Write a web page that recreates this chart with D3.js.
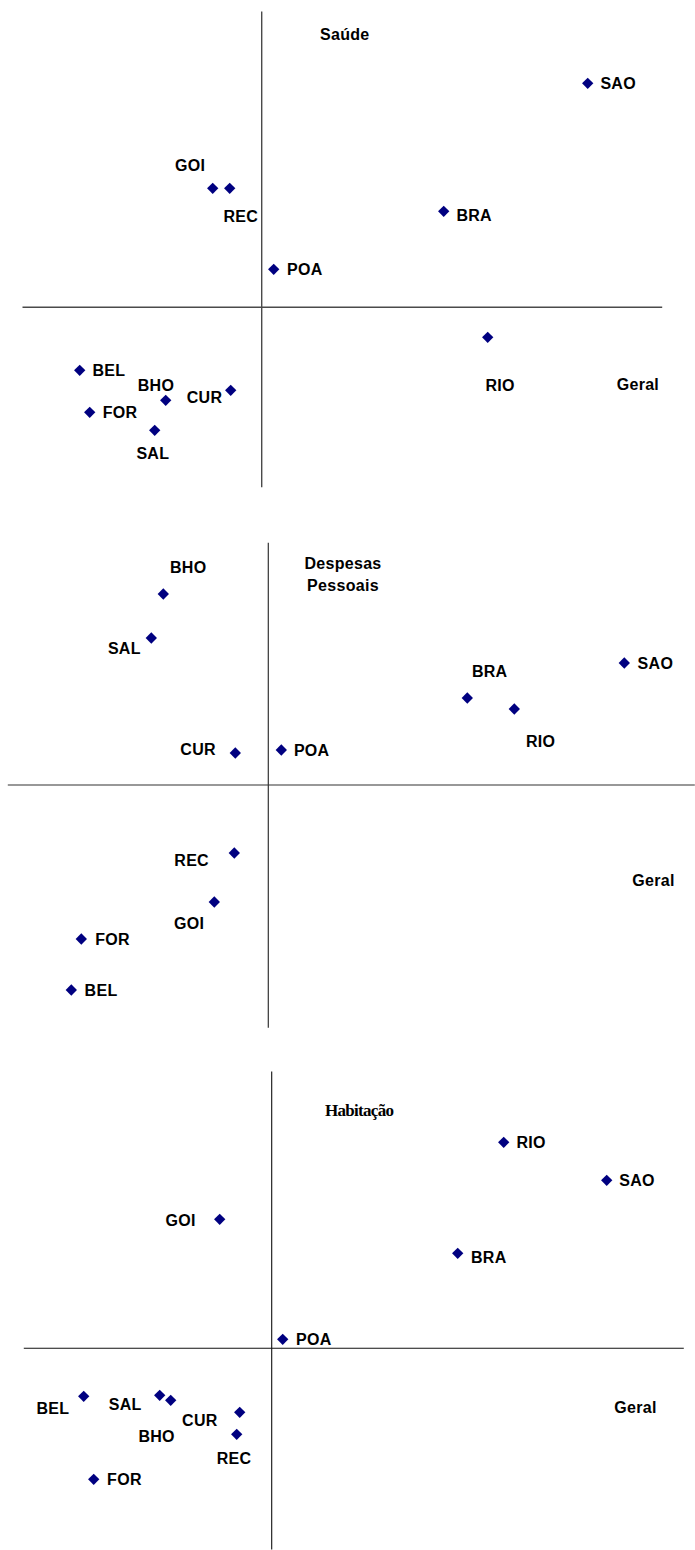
<!DOCTYPE html>
<html>
<head>
<meta charset="utf-8">
<script src="https://cdn.jsdelivr.net/npm/d3@7"></script>
<style>
  html, body { margin: 0; padding: 0; background: #fff; }
  svg { display: block; }
  .lbl { font-family: "Liberation Sans", Arial, sans-serif; font-weight: bold; font-size: 16px; letter-spacing: 0.3px; fill: #000; }
  .ttl-serif { font-family: "Liberation Serif", "Times New Roman", serif; font-weight: bold; font-size: 17px; letter-spacing: -0.7px; fill: #000; }
</style>
</head>
<body>
<script>
// ---- Data (arbitrary factor-score units; origin at axis crossing) ----
const cities = ["GOI", "REC", "POA", "BEL", "BHO", "CUR", "FOR", "SAL", "SAO", "BRA", "RIO"];

// Panel 1: Saúde vs Geral
const saudeX = [-0.49, -0.32, 0.12, -1.82, -0.96, -0.31, -1.72, -1.07, 3.26, 1.82, 2.26];
const saudeY = [1.19, 1.19, 0.38, -0.63, -0.93, -0.83, -1.05, -1.23, 2.24, 0.96, -0.30];

// Panel 2: Despesas Pessoais vs Geral
const despX = [-0.54, -0.34, 0.13, -1.97, -1.05, -0.33, -1.87, -1.17, 3.56, 1.99, 2.46];
const despY = [-1.17, -0.68, 0.35, -2.05, 1.91, 0.32, -1.54, 1.47, 1.22, 0.87, 0.76];

// Panel 3: Habitação vs Geral
const habX = [-0.52, -0.35, 0.11, -1.88, -1.01, -0.32, -1.78, -1.12, 3.35, 1.86, 2.32];
const habY = [1.29, -0.86, 0.09, -0.48, -0.52, -0.64, -1.31, -0.47, 1.68, 0.95, 2.06];

const panelTitles = [["Saúde"], ["Despesas", "Pessoais"], ["Habitação"]];
const axisLabel = "Geral";

// ---- Layout (not data) ----
const W = 695, H = 1550;
const svg = d3.select("body").append("svg").attr("width", W).attr("height", H);

// label offsets [dx to label left edge, dy to label vertical centre], per city order
const labelOffsets = [
  [[-37.7, -22.6], [-6.3, 28.4], [13.4, 0], [12.7, 0], [-28, -15], [-44, 7.6], [13, 0], [-18.3, 23.3], [12.7, 0], [12.7, 4], [-2.3, 47.7]],
  [[-40.3, 21.6], [-60, 7.3], [12.6, 0], [13.3, 0], [6.7, -26.6], [-55, -3.4], [14, 0], [-43.4, 10.6], [13.3, 0], [4.6, -26.6], [11.7, 32.4]],
  [[-54.3, 1], [-20, 24], [13.3, 0], [-47.3, 12.3], [-32.3, 36], [-57.6, 7.7], [13.4, 0], [-51, 9.3], [12.6, 0], [13.3, 4], [12.7, 0]]
];

const panels = [
  { xs: saudeX, ys: saudeY, xDom: [-2.397, 4.0], yDom: [-1.794, 2.963], xR: [22, 661.7], yR: [486.7, 11],
    axisColor: "#4a4a4a", axisW: 1.4,
    title: { x: 320, y: 34, anchor: "start", cls: "lbl", lh: 0 }, geral: { x: 616.7, y: 384.5 } },
  { xs: despX, ys: despY, xDom: [-2.61, 4.26], yDom: [-2.423, 2.427], xR: [7.3, 694.3], yR: [1027.3, 542.3],
    axisColor: "#333", axisW: 1.2,
    title: { x: 343, y: 563.3, anchor: "middle", cls: "lbl", lh: 21.7 }, geral: { x: 632.3, y: 880 } },
  { xs: habX, ys: habY, xDom: [-2.484, 4.116], yDom: [-2.007, 2.773], xR: [23.3, 683.3], yR: [1549, 1071],
    axisColor: "#111", axisW: 1.1,
    title: { x: 325, y: 1110.7, anchor: "start", cls: "ttl-serif", lh: 0 }, geral: { x: 614.3, y: 1407.7 } }
];

const diamond = d3.symbol().type(d3.symbolSquare).size(64);

panels.forEach((p, pi) => {
  const x = d3.scaleLinear().domain(p.xDom).range(p.xR);
  const y = d3.scaleLinear().domain(p.yDom).range(p.yR);
  const g = svg.append("g");

  // axes crossing at origin
  const xAxis = g.append("g").attr("transform", `translate(0,${y(0) - 0.5})`)
    .call(d3.axisBottom(x).tickValues([]).tickSizeOuter(0));
  const yAxis = g.append("g").attr("transform", `translate(${x(0) - 0.5},0)`)
    .call(d3.axisLeft(y).tickValues([]).tickSizeOuter(0));
  [xAxis, yAxis].forEach(a => a.select(".domain").attr("stroke", p.axisColor).attr("stroke-width", p.axisW));

  // points
  const pts = cities.map((c, i) => ({ c, vx: p.xs[i], vy: p.ys[i], off: labelOffsets[pi][i] }));
  g.selectAll("path.pt").data(pts).join("path")
    .attr("class", "pt")
    .attr("d", diamond)
    .attr("fill", "#000080")
    .attr("transform", d => `translate(${x(d.vx)},${y(d.vy)}) rotate(45)`);

  g.selectAll("text.city").data(pts).join("text")
    .attr("class", "lbl city")
    .attr("x", d => x(d.vx) + d.off[0])
    .attr("y", d => y(d.vy) + d.off[1])
    .attr("dominant-baseline", "central")
    .text(d => d.c);

  // title
  const t = p.title;
  panelTitles[pi].forEach((line, li) => {
    g.append("text").attr("class", t.cls)
      .attr("x", t.x).attr("y", t.y + li * t.lh)
      .attr("text-anchor", t.anchor)
      .attr("dominant-baseline", "central")
      .text(line);
  });

  // axis label
  g.append("text").attr("class", "lbl")
    .attr("x", p.geral.x).attr("y", p.geral.y)
    .attr("dominant-baseline", "central")
    .text(axisLabel);
});
</script>
</body>
</html>
